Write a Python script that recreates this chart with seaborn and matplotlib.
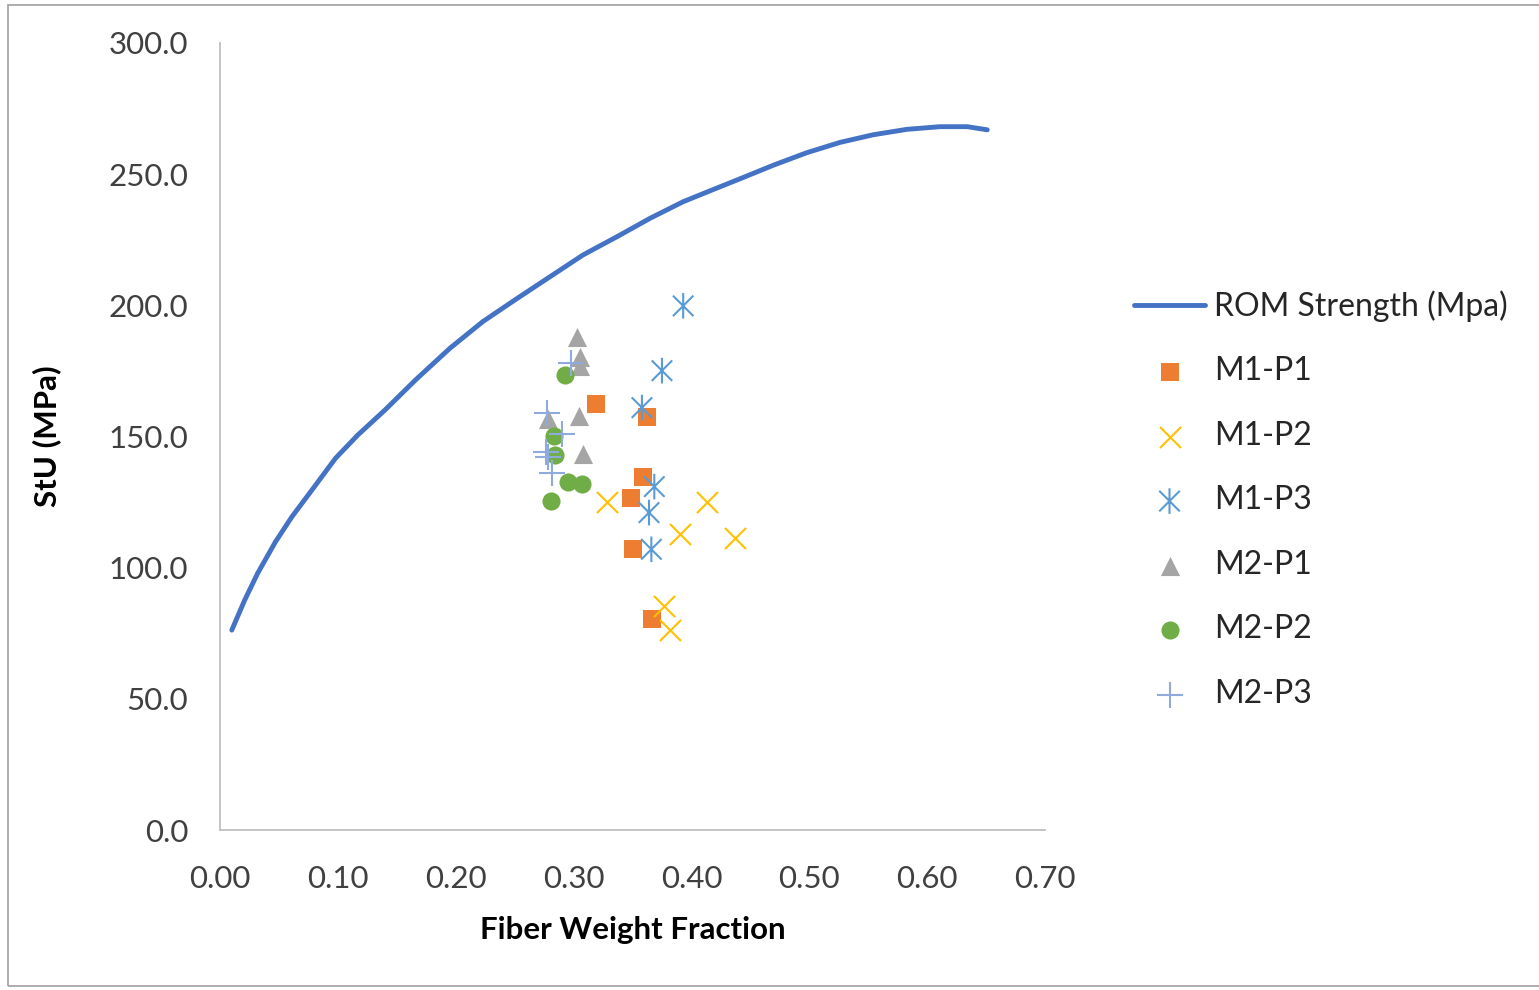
import numpy as np
import pandas as pd
import matplotlib
matplotlib.use("Agg")
import matplotlib.pyplot as plt
from matplotlib.path import Path
from matplotlib.patches import Rectangle
import seaborn as sns

# ---- data ----
rom_x = [0.010, 0.021, 0.032, 0.047, 0.061, 0.078, 0.098, 0.117, 0.140, 0.166,
         0.195, 0.223, 0.252, 0.280, 0.308, 0.337, 0.365, 0.393, 0.421, 0.441,
         0.470, 0.498, 0.526, 0.554, 0.583, 0.611, 0.634, 0.651]
rom_y = [76.2, 87.7, 97.9, 109.8, 119.4, 129.6, 141.7, 150.6, 160.1, 171.6,
         183.6, 193.8, 202.6, 210.9, 219.2, 226.2, 233.2, 239.5, 244.6, 248.2,
         253.5, 258.2, 262.1, 265.0, 267.1, 268.1, 268.1, 266.9]

m1p1_x = [0.319, 0.362, 0.359, 0.349, 0.350, 0.3665]
m1p1_y = [162.5, 157.3, 134.6, 126.7, 107.1, 80.4]

m1p2_x = [0.328, 0.4135, 0.3906, 0.437, 0.377, 0.382]
m1p2_y = [124.9, 124.9, 112.7, 111.4, 85.4, 76.2]

m1p3_x = [0.393, 0.375, 0.358, 0.3685, 0.364, 0.366]
m1p3_y = [199.8, 175.1, 161.0, 130.9, 121.0, 107.0]

m2p1_x = [0.303, 0.3055, 0.3055, 0.305, 0.2786, 0.3077]
m2p1_y = [188.1, 180.4, 177.0, 158.0, 156.5, 143.2]

m2p2_x = [0.2927, 0.2837, 0.284, 0.2955, 0.307, 0.281]
m2p2_y = [173.5, 150.3, 143.1, 132.5, 131.9, 125.4]

m2p3_x = [0.2975, 0.2772, 0.290, 0.2766, 0.2786, 0.2814]
m2p3_y = [177.9, 158.8, 150.8, 144.2, 142.3, 136.0]

x_ticks = [0.0, 0.1, 0.2, 0.3, 0.4, 0.5, 0.6, 0.7]
y_ticks = [0, 50, 100, 150, 200, 250, 300]

# ---- style ----
sns.set_style("white")
plt.rcParams['font.family'] = ['Lato', 'DejaVu Sans']

fig = plt.figure(figsize=(15.39, 9.9), dpi=100)
ax = fig.add_axes([220/1539, 1-830/990, 825/1539, 787/990])

# asterisk marker (X with vertical bar)
star_verts = [(-1, -1), (1, 1), (-1, 1), (1, -1), (0, -1.25), (0, 1.25)]
star_codes = [Path.MOVETO, Path.LINETO, Path.MOVETO, Path.LINETO, Path.MOVETO, Path.LINETO]
star_marker = Path(star_verts, star_codes)

rom_df = pd.DataFrame({"x": rom_x, "y": rom_y})
sns.lineplot(data=rom_df, x="x", y="y", ax=ax, color="#4472C4", linewidth=3.5,
             label="ROM Strength (Mpa)", sort=False, estimator=None)

series = [
    ("M1-P1", m1p1_x, m1p1_y, "s", "#ED7D31", 150, 0),
    ("M1-P2", m1p2_x, m1p2_y, "x", "#FFC000", 230, 1.5),
    ("M1-P3", m1p3_x, m1p3_y, star_marker, "#5B9BD5", 340, 1.5),
    ("M2-P1", m2p1_x, m2p1_y, "^", "#A5A5A5", 190, 0),
    ("M2-P2", m2p2_x, m2p2_y, "o", "#70AD47", 170, 0),
    ("M2-P3", m2p3_x, m2p3_y, "+", "#8FAADC", 330, 1.5),
]
for name, xs, ys, mk, col, s, lw in series:
    df = pd.DataFrame({"x": xs, "y": ys})
    kw = {"linewidth": lw}
    if isinstance(mk, Path):
        kw["edgecolor"] = col
        kw["facecolor"] = "none"
        sns.scatterplot(data=df, x="x", y="y", ax=ax, marker=mk, s=s,
                        label=name, zorder=3, **kw)
    else:
        sns.scatterplot(data=df, x="x", y="y", ax=ax, marker=mk, color=col, s=s,
                        label=name, zorder=3, **kw)

ax.set_xlim(0, 0.7)
ax.set_ylim(0, 300)
ax.set_xticks(x_ticks)
ax.set_xticklabels([f"{v:.2f}" for v in x_ticks])
ax.set_yticks(y_ticks)
ax.set_yticklabels([f"{v:.1f}" for v in y_ticks])
ax.tick_params(axis="both", length=0, labelsize=22.5, colors="#404040")
ax.tick_params(axis="y", pad=23)
ax.tick_params(axis="x", pad=25)
for sp in ["top", "right"]:
    ax.spines[sp].set_visible(False)
for sp in ["left", "bottom"]:
    ax.spines[sp].set_color("#BFBFBF")
    ax.spines[sp].set_linewidth(1.3)

ax.set_xlabel("Fiber Weight Fraction", fontsize=22.5, fontweight="bold", color="#000000", labelpad=17)
ax.set_ylabel("StU (MPa)", fontsize=22.5, fontweight="bold", color="#000000", labelpad=34)

leg = ax.legend(loc="upper left", bbox_to_anchor=(1112/1539, 1-268/990),
                bbox_transform=fig.transFigure, frameon=False, fontsize=23,
                handlelength=2.2, labelspacing=1.08, handletextpad=0.3,
                borderpad=0.2)
for t in leg.get_texts():
    t.set_color("#262626")

fig.patches.append(Rectangle((8/1539, 4/990), 1.2, (985-4)/990, transform=fig.transFigure,
                             fill=False, edgecolor="#A0A0A0", linewidth=1.2))

fig.savefig("out.png", dpi=100)
